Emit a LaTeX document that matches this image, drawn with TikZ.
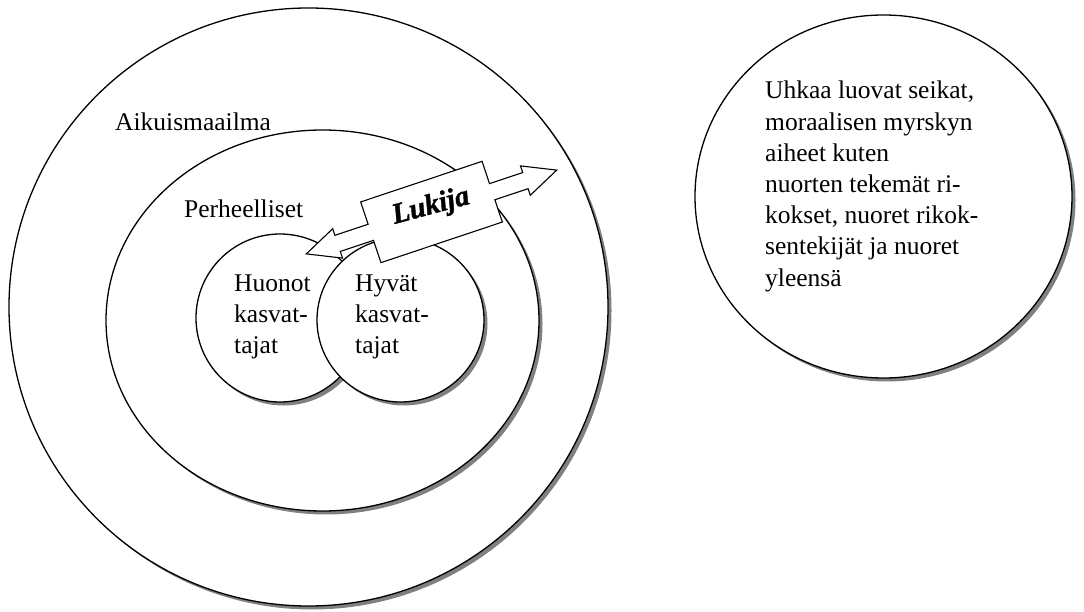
\documentclass[tikz,border=0pt]{standalone}
\usepackage{fontspec}
\setmainfont{Liberation Serif}
\newfontfamily\lukijafont{Liberation Serif}[UprightFont=* Bold Italic, FakeBold=1.3]
\usetikzlibrary{shapes.geometric,shadows}
\begin{document}
\begin{tikzpicture}[x=1pt,y=-1pt,
  blob/.style={ellipse, draw=black, line width=1.3pt, fill=white, inner sep=0pt,
     drop shadow={shadow xshift=3.5pt, shadow yshift=-3.5pt, fill=black!50, opacity=1}},
  lbl/.style={anchor=base west, inner sep=0pt, font=\fontsize{25.5}{31}\selectfont},
  arrowshape/.style={draw=black, line width=1.1pt, fill=white, line join=miter}]
\useasboundingbox (0,0) rectangle (1084,612);
% circles
\node[blob, minimum width=599pt, minimum height=598pt] (outer) at (308.5,307) {};
\node[blob, minimum width=433pt, minimum height=381pt] (middle) at (322.5,320.5) {};
\node[blob, minimum width=168pt, minimum height=168pt] (huonot) at (280,318) {};
\node[blob, minimum width=167pt, minimum height=164pt] (hyvat) at (400.5,320) {};
\node[blob, minimum width=377pt, minimum height=363pt] (right) at (883.5,196.5) {};
% labels
\node[lbl] (aik) at (115,131) {Aikuismaailma};
\node[lbl] (per) at (184,218) {Perheelliset};
\foreach \t [count=\i] in {Huonot,kasvat-,tajat}
  \node[lbl] (hu\i) at (234,{292+30.5*(\i-1)}) {\t};
\foreach \t [count=\i] in {Hyvät,kasvat-,tajat}
  \node[lbl] (hy\i) at (355,{292+30.5*(\i-1)}) {\t};
\foreach \t [count=\i] in {{Uhkaa luovat seikat,},{moraalisen myrskyn},{aiheet kuten},{nuorten tekemät ri-},{kokset, nuoret rikok-},{sentekijät ja nuoret},{yleensä}}
  \node[lbl] (rt\i) at (765,{99+31.2*(\i-1)}) {\t};
% double arrow with box
\coordinate (arrc) at (431.5,212);
\begin{scope}[shift={(arrc)}, rotate=18.5]
\draw[arrowshape] (-132,0) -- (-99,-15.5) -- (-99,-8.5) -- (-64,-8.5) -- (-64,-32)
  -- (64,-32) -- (64,-8.5) -- (99,-8.5) -- (99,-15.5) -- (132,0) -- (99,15.5)
  -- (99,8.5) -- (64,8.5) -- (64,32) -- (-64,32) -- (-64,8.5) -- (-99,8.5)
  -- (-99,15.5) -- cycle;
\end{scope}
\node[inner sep=0pt, rotate=15, font=\fontsize{29}{30}\lukijafont] (lukija) at (431,207) {Lukija};
\end{tikzpicture}
\end{document}
